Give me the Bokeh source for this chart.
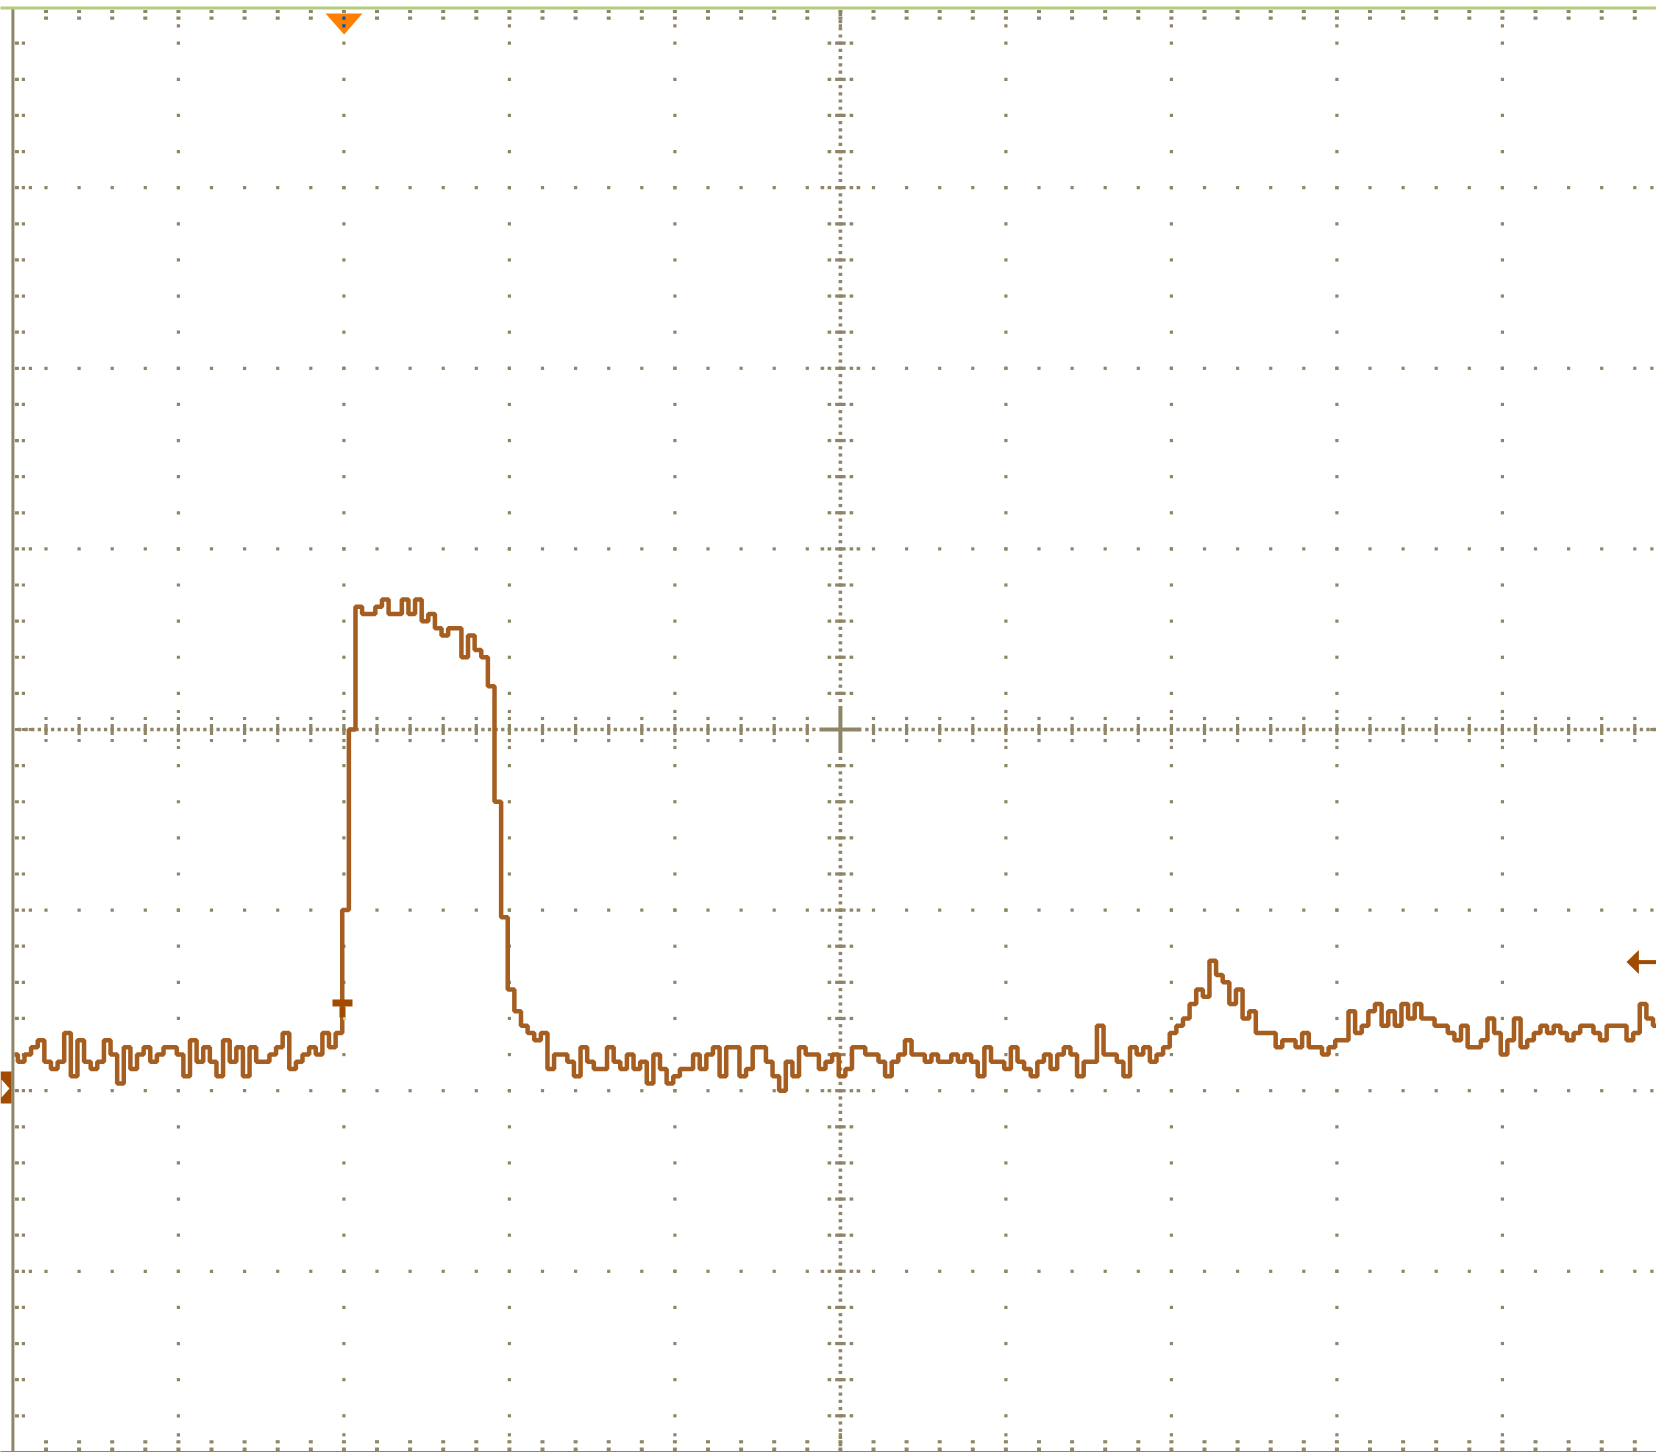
import numpy as np
from bokeh.plotting import figure
from bokeh.models import Range1d
from bokeh.embed import file_html
from bokeh.resources import INLINE

# ---------------- data ----------------
# ADC counts above the channel-1 ground marker (25 counts per vertical division),
# one value every 0.04 horizontal divisions.
trace_counts = [
    5, 4, 5, 6, 7, 4, 3, 4, 8, 2,
    7, 4, 3, 4, 7, 5, 1, 6, 3, 5,
    6, 4, 5, 6, 6, 5, 2, 7, 4, 6,
    4, 2, 7, 4, 6, 2, 6, 4, 4, 5,
    6, 8, 3, 4, 5, 6, 5, 8, 6, 8,
    25, 50, 67, 66, 66, 67, 68, 66, 66, 68,
    66, 68, 65, 66, 64, 63, 64, 64, 60, 63,
    61, 60, 56, 40, 24, 14, 11, 9, 8, 7,
    8, 3, 5, 5, 4, 2, 6, 4, 3, 3,
    6, 4, 3, 5, 3, 4, 1, 5, 3, 1,
    2, 3, 3, 5, 3, 5, 6, 2, 6, 6,
    2, 3, 6, 6, 4, 2, 0, 4, 2, 6,
    5, 5, 3, 4, 5, 2, 3, 6, 6, 5,
    5, 4, 2, 4, 5, 7, 5, 5, 4, 5,
    4, 4, 5, 4, 5, 4, 2, 6, 4, 4,
    3, 6, 4, 3, 2, 4, 5, 3, 5, 6,
    5, 2, 4, 4, 9, 5, 5, 4, 2, 6,
    5, 6, 4, 5, 6, 8, 9, 10, 12, 14,
    13, 18, 16, 15, 12, 14, 10, 11, 8, 8,
    8, 6, 7, 7, 6, 8, 6, 6, 5, 6,
    7, 7, 11, 8, 9, 11, 12, 9, 11, 9,
    12, 10, 12, 10, 10, 9, 9, 8, 7, 9,
    6, 6, 7, 10, 8, 5, 7, 10, 6, 7,
    8, 9, 8, 9, 8, 7, 8, 9, 9, 8,
    7, 9, 9, 9, 7, 8, 12, 10, 9,
]
SAMPLE_DIV = 0.04          # horizontal divisions per sample
T_START_DIV = 0.01         # time of first sample (divisions from left edge)
COUNTS_PER_DIV = 25.0
GROUND_DIV = -2.0          # channel ground marker position
TRIG_TIME_DIV = 2.0        # trigger position (divisions from left edge)
TRIG_LEVEL_COUNTS = 17.8   # trigger level (counts above ground)
TRIG_MARK_COUNTS = 12.2    # trigger point marker on the trace
N_XDIV, N_YDIV = 10, 8

# ---------------- layout ----------------
W, H = 1656, 1452
PXX, PXY = 165.5, 180.6      # pixels per division
LEFT_PX, CENTER_Y_PX = 12.4, 729.0

GRID = "#8f8668"
TRACE = "#a65e20"
MARK = "#a04b00"
TOPLINE = "#b4cc7e"

p = figure(width=W, height=H,
           x_range=Range1d(-LEFT_PX / PXX, (W - LEFT_PX) / PXX),
           y_range=Range1d(-(H - CENTER_Y_PX) / PXY, CENTER_Y_PX / PXY),
           x_axis_type=None, y_axis_type=None,
           toolbar_location=None, output_backend="svg",
           min_border=0, outline_line_color=None,
           background_fill_color="white", border_fill_color="white",
           styles={"position": "absolute", "left": "0px", "top": "0px"})
p.xgrid.grid_line_color = None
p.ygrid.grid_line_color = None


def ox(px):
    return px / PXX


def oy(px):
    return px / PXY


def rel(ax, ay, dx_px, dy_px_down):
    return ax + dx_px / PXX, ay - dy_px_down / PXY


def blocks(xs, ys, w, h, color=GRID):
    p.rect(xs, ys, width=w, height=h, width_units="screen", height_units="screen",
           fill_color=color, line_color=None)


half_x, half_y = N_XDIV / 2, N_YDIV / 2
minor_x = [k * 0.2 for k in range(int(N_XDIV * 5) + 1)]
minor_y = [-half_y + k * 0.2 for k in range(int(N_YDIV * 5) + 1)]


def is_major(v):
    return abs(v - round(v)) < 1e-6


# major grid lines drawn as dots at minor positions
gx, gy = [], []
for mx in range(1, N_XDIV):
    if mx == half_x:
        continue
    for yv in minor_y[1:-1]:
        gx.append(mx); gy.append(yv)
for my in range(-int(half_y) + 1, int(half_y)):
    if my == 0:
        continue
    for xv in minor_x[1:-1]:
        gx.append(xv); gy.append(my)
blocks(gx, gy, 3.2, 3.2)

# centre horizontal line
cx = [k * 0.04 for k in range(1, 250) if abs(k * 0.04 - half_x) > 0.13]
blocks(cx, [0] * len(cx), 3.3, 3.5)
tx = [v for v in minor_x[1:-1] if abs(v - half_x) > 1e-6]
blocks(tx, [0] * len(tx), 3.2, 11)
blocks(tx + tx, [oy(11)] * len(tx) + [-oy(11)] * len(tx), 3.2, 3.2)
mjx = [v for v in tx if is_major(v)]
blocks(mjx + mjx, [oy(18)] * len(mjx) + [-oy(18)] * len(mjx), 3.2, 3.2)

# centre vertical line
cy = [-half_y + k * 0.04 for k in range(1, 200) if abs(-half_y + k * 0.04) > 0.13]
blocks([half_x] * len(cy), cy, 3.6, 3.2)
ty = [v for v in minor_y[1:-1] if abs(v) > 1e-6]
blocks([half_x] * len(ty), ty, 10.5, 3.2)
blocks([half_x + ox(11)] * len(ty) + [half_x - ox(11)] * len(ty), ty + ty, 3.6, 3.2)
mjy = [v for v in ty if is_major(v)]
blocks([half_x + ox(18)] * len(mjy) + [half_x - ox(18)] * len(mjy), mjy + mjy, 3.6, 3.2)

# centre cross
blocks([half_x], [0], 42, 4)
blocks([half_x], [0], 4, 47)

# borders
p.segment(x0=[0], y0=[-half_y - 0.05], x1=[0], y1=[half_y], line_color=GRID, line_width=3)
p.segment(x0=[-0.1], y0=[-half_y], x1=[N_XDIV + 0.1], y1=[-half_y], line_color=GRID, line_width=2)
p.segment(x0=[-0.1], y0=[half_y - oy(0.9)], x1=[N_XDIV + 0.1], y1=[half_y - oy(0.9)],
          line_color=TOPLINE, line_width=3)

iy = minor_y[1:-1]
iymaj = [v for v in iy if is_major(v)]
ix = minor_x[1:-1]
ixmaj = [v for v in ix if is_major(v)]
# left
blocks([ox(4)] * len(iy), iy, 4, 3.2)
blocks([ox(10.5)] * len(iy), iy, 3.2, 3.2)
blocks([ox(17.5)] * len(iymaj), iymaj, 3.2, 3.2)
# right
blocks([N_XDIV - ox(2.5)] * len(iy), iy, 4, 3.2)
blocks([N_XDIV - ox(9)] * len(iy), iy, 3.2, 3.2)
blocks([N_XDIV - ox(16)] * len(iymaj), iymaj, 3.2, 3.2)
# top
blocks(ix, [half_y - oy(4.4)] * len(ix), 4, 3.2)
blocks(ix, [half_y - oy(11.1)] * len(ix), 4, 3.2)
blocks(ixmaj, [half_y - oy(18.7)] * len(ixmaj), 3.2, 3.2)
# bottom
blocks(ix, [-half_y + oy(2.4)] * len(ix), 4, 4)
blocks(ix, [-half_y + oy(10.1)] * len(ix), 4, 3.2)
blocks(ixmaj, [-half_y + oy(17.1)] * len(ixmaj), 3.2, 3.2)

# ---------------- trace ----------------
t = T_START_DIV + SAMPLE_DIV * np.arange(len(trace_counts))
yv = GROUND_DIV + np.array(trace_counts, dtype=float) / COUNTS_PER_DIV
p.step(t, yv, mode="center", line_color=TRACE, line_width=4.5)

# ---------------- markers ----------------
# channel ground marker (left edge)
gxs, gys = zip(*[rel(0, GROUND_DIV, dx, dy) for dx, dy in
                 [(-12.4, -19.2), (-1.4, -19.2), (-1.4, 12.8), (-12.4, 12.8)]])
p.patch(list(gxs), list(gys), fill_color=MARK, line_color=None)
wxs, wys = zip(*[rel(0, GROUND_DIV, dx, dy) for dx, dy in
                 [(-11.4, -11.2), (-3.4, -2.2), (-11.4, 6.8)]])
p.patch(list(wxs), list(wys), fill_color="white", line_color=None)

# trigger level arrow (right edge)
lvl = GROUND_DIV + TRIG_LEVEL_COUNTS / COUNTS_PER_DIV
axs, ays = zip(*[rel(N_XDIV, lvl, dx, dy) for dx, dy in
                 [(-41.4, 0), (-29, -12), (-29, 12)]])
p.patch(list(axs), list(ays), fill_color=MARK, line_color=None)
bx0, _ = rel(N_XDIV, lvl, -31, 0)
p.segment(x0=[bx0], y0=[lvl], x1=[N_XDIV], y1=[lvl], line_color=MARK, line_width=4)

# trigger position triangle (top)
txs, tys = zip(*[rel(TRIG_TIME_DIV, half_y, dx, dy) for dx, dy in
                 [(-18.4, 6.4), (18.6, 6.4), (0.2, 27.4)]])
p.patch(list(txs), list(tys), fill_color="#ff8000", line_color=None)
blocks([TRIG_TIME_DIV, TRIG_TIME_DIV], [half_y - oy(11.1), half_y - oy(18.7)], 3.2, 3.2,
       color="#0050c0")

# trigger point "T" on trace
tm = GROUND_DIV + TRIG_MARK_COUNTS / COUNTS_PER_DIV
bx, by = rel(TRIG_TIME_DIV, tm, -1.4, 0.4)
blocks([bx], [by], 20, 7, color=MARK)
sx, sy = rel(TRIG_TIME_DIV, tm, -1.4, 9.4)
blocks([sx], [sy], 6, 11, color=MARK)
gx2, gy2 = rel(TRIG_TIME_DIV, tm, 0.6, 16)
blocks([gx2], [gy2], 2.5, 3, color="#a8f08a")

open("out.html", "w").write(file_html(p, INLINE))
